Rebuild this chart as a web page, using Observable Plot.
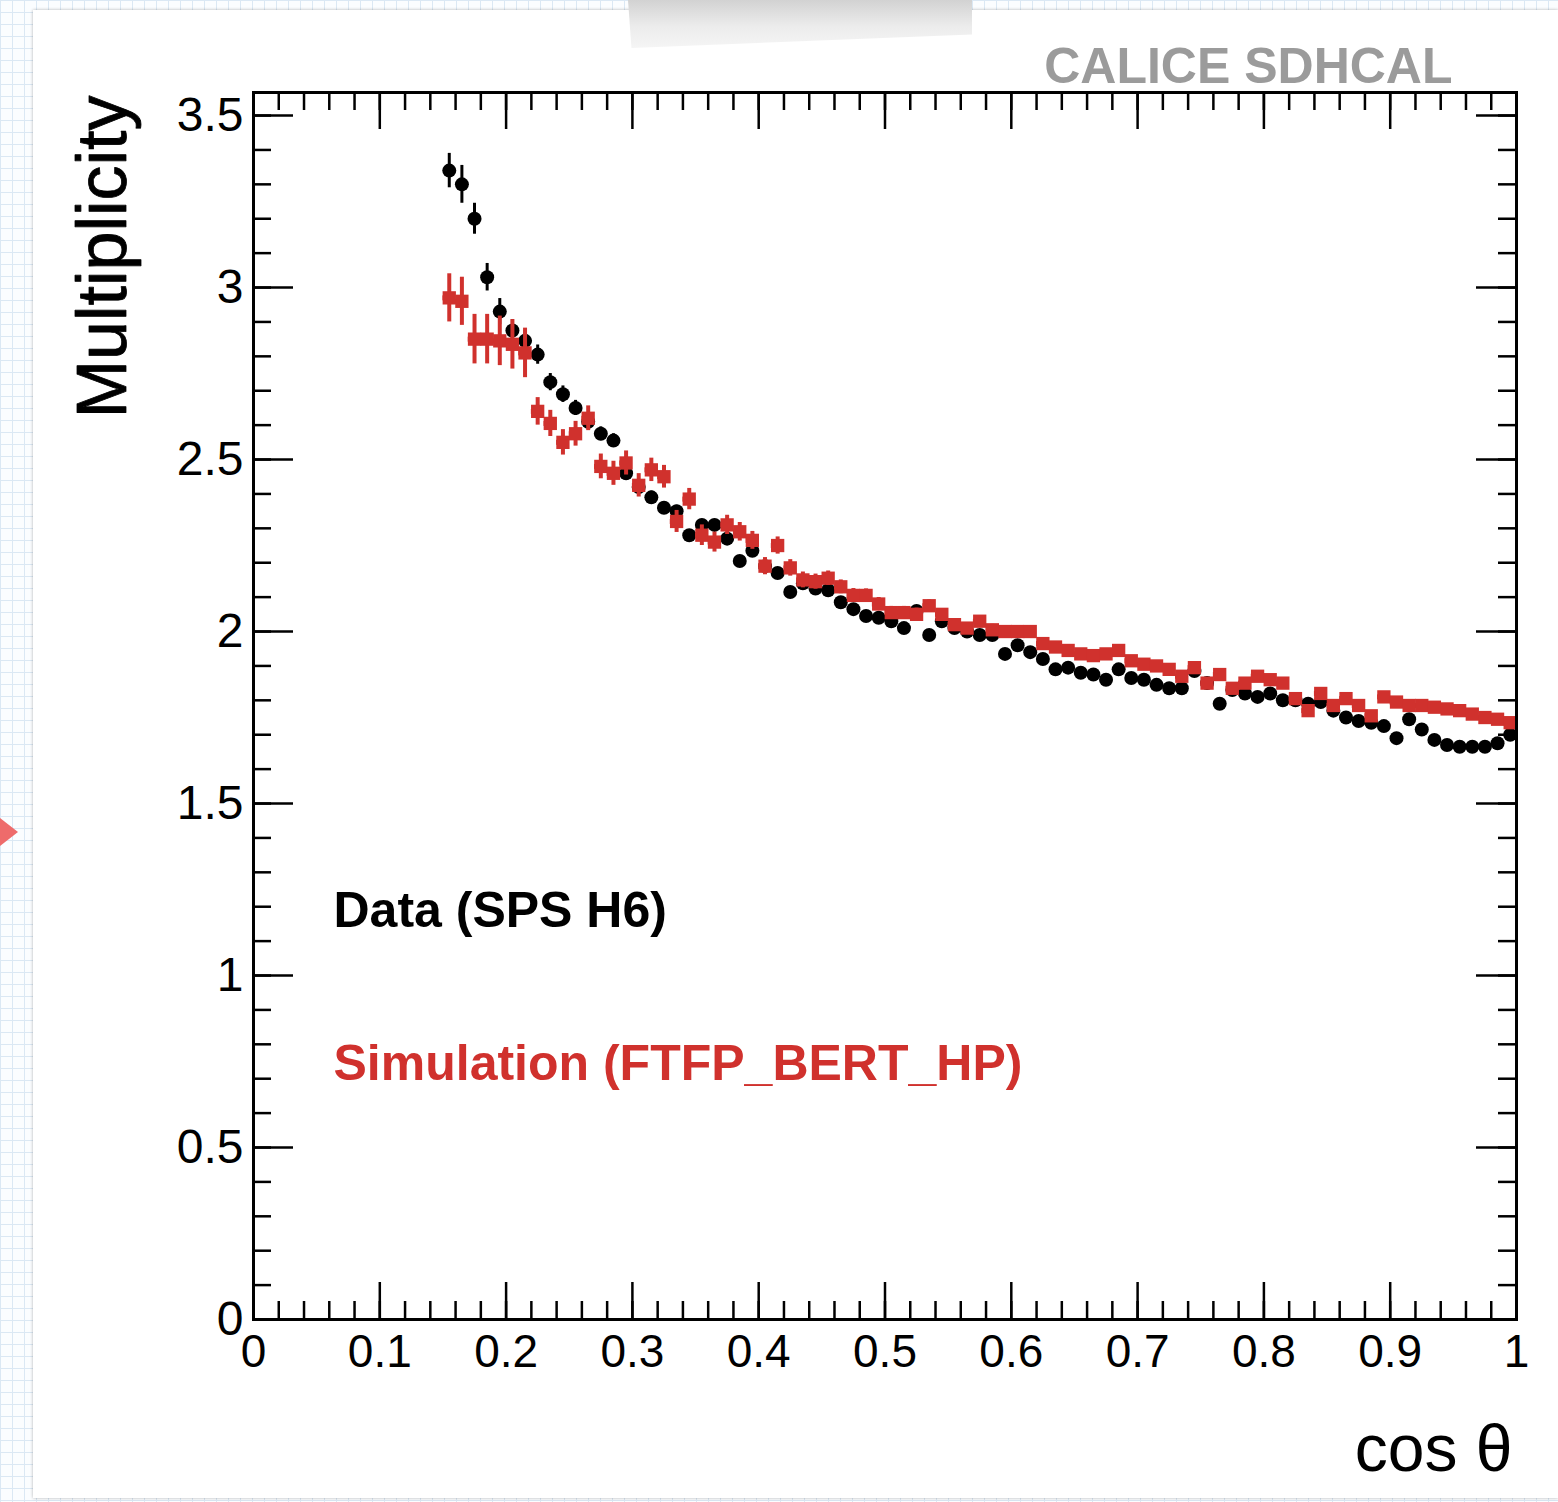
<!DOCTYPE html>
<html>
<head>
<meta charset="utf-8">
<script src="https://cdn.jsdelivr.net/npm/d3@7"></script>
<script src="https://cdn.jsdelivr.net/npm/@observablehq/plot@0.6"></script>
<style>
  html, body { margin: 0; padding: 0; }
  body {
    width: 1558px; height: 1502px; position: relative; overflow: hidden;
    background-color: #fbfdff;
    background-image:
      linear-gradient(#dbe8f4 1px, transparent 1px),
      linear-gradient(90deg, #dbe8f4 1px, transparent 1px);
    background-size: 12px 12px;
  }
  #sheet {
    position: absolute; left: 33px; top: 10px; right: 0; bottom: 4px;
    background: #fff; box-shadow: 0 0 3px rgba(0,0,0,0.3);
  }
  #tape {
    position: absolute; left: 628px; top: 0; width: 344px; height: 48px;
    background: linear-gradient(#d2d2d2, #ececec 55%, #f5f5f5);
    clip-path: polygon(0 0, 100% 0, 100% 72%, 1% 100%);
  }
  #pointer {
    position: absolute; left: 0; top: 818px; width: 0; height: 0;
    border-top: 14px solid transparent; border-bottom: 14px solid transparent;
    border-left: 18px solid #ee6b6b;
  }
  #chart { position: absolute; left: 0; top: 0; }
</style>
</head>
<body>
<div id="sheet"></div>
<div id="tape"></div>
<div id="pointer"></div>
<div id="chart"></div>
<script>
// Bin centres in cos(theta), bin width 0.01
const binWidth = 0.01;
const cosTheta = [
  0.155,0.165,0.175,0.185,0.195,0.205,0.215,0.225,0.235,0.245,
  0.255,0.265,0.275,0.285,0.295,0.305,0.315,0.325,0.335,0.345,
  0.355,0.365,0.375,0.385,0.395,0.405,0.415,0.425,0.435,0.445,
  0.455,0.465,0.475,0.485,0.495,0.505,0.515,0.525,0.535,0.545,
  0.555,0.565,0.575,0.585,0.595,0.605,0.615,0.625,0.635,0.645,
  0.655,0.665,0.675,0.685,0.695,0.705,0.715,0.725,0.735,0.745,
  0.755,0.765,0.775,0.785,0.795,0.805,0.815,0.825,0.835,0.845,
  0.855,0.865,0.875,0.885,0.895,0.905,0.915,0.925,0.935,0.945,
  0.955,0.965,0.975,0.985,0.995
];

// Data (SPS H6): mean multiplicity and its uncertainty
const dataMult = [
  3.34,3.30,3.20,3.03,2.93,2.875,2.845,2.805,2.725,2.69,
  2.65,2.61,2.575,2.555,2.46,2.42,2.39,2.36,2.35,2.28,
  2.31,2.31,2.27,2.205,2.235,2.19,2.17,2.115,2.14,2.125,
  2.12,2.085,2.065,2.045,2.04,2.03,2.01,2.06,1.99,2.03,
  2.01,2.0,1.99,1.99,1.935,1.96,1.94,1.92,1.89,1.895,
  1.88,1.875,1.86,1.89,1.865,1.86,1.845,1.835,1.835,1.885,
  1.85,1.79,1.83,1.82,1.81,1.82,1.80,1.80,1.79,1.795,
  1.77,1.75,1.74,1.735,1.725,1.69,1.745,1.715,1.685,1.67,
  1.665,1.665,1.665,1.675,1.70
];
const dataErr = [
  0.050,0.055,0.045,0.040,0.038,0.032,0.030,0.028,0.025,0.024,
  0.022,0.021,0.020,0.020,0.019,0.018,0.018,0.017,0.017,0.016,
  0.016,0.016,0.015,0.015,0.015,0.015,0.015,0.015,0.015,0.015,
  0.014,0.014,0.014,0.014,0.014,0.014,0.014,0.014,0.014,0.014,
  0.013,0.013,0.013,0.013,0.013,0.013,0.013,0.013,0.013,0.013,
  0.013,0.013,0.013,0.013,0.013,0.013,0.013,0.013,0.013,0.013,
  0.012,0.012,0.012,0.012,0.012,0.012,0.012,0.012,0.012,0.012,
  0.012,0.012,0.012,0.012,0.012,0.012,0.012,0.012,0.012,0.012,
  0.012,0.012,0.012,0.012,0.012
];

// Simulation (FTFP_BERT_HP): mean multiplicity and its uncertainty
const simMult = [
  2.97,2.96,2.85,2.85,2.845,2.835,2.81,2.64,2.605,2.55,
  2.575,2.62,2.48,2.46,2.49,2.425,2.47,2.45,2.32,2.385,
  2.28,2.26,2.31,2.29,2.265,2.19,2.25,2.185,2.15,2.145,
  2.155,2.13,2.105,2.105,2.08,2.055,2.055,2.05,2.075,2.05,
  2.02,2.01,2.03,2.005,2.0,2.0,2.0,1.965,1.955,1.945,
  1.935,1.93,1.935,1.945,1.915,1.905,1.90,1.89,1.87,1.895,
  1.85,1.875,1.835,1.85,1.87,1.86,1.85,1.805,1.77,1.82,
  1.785,1.805,1.785,1.755,1.81,1.795,1.785,1.785,1.78,1.775,
  1.77,1.76,1.75,1.745,1.735
];
const simErr = [
  0.070,0.070,0.072,0.072,0.072,0.072,0.072,0.040,0.038,0.037,
  0.036,0.036,0.036,0.035,0.035,0.034,0.034,0.033,0.032,0.031,
  0.030,0.029,0.028,0.027,0.026,0.025,0.025,0.024,0.023,0.022,
  0.021,0.020,0.020,0.019,0.019,0.018,0.018,0.018,0.017,0.017,
  0.017,0.016,0.016,0.016,0.016,0.015,0.015,0.015,0.015,0.015,
  0.015,0.015,0.015,0.015,0.015,0.015,0.015,0.015,0.015,0.015,
  0.014,0.014,0.014,0.014,0.014,0.014,0.014,0.014,0.014,0.014,
  0.014,0.014,0.014,0.014,0.014,0.014,0.014,0.014,0.014,0.014,
  0.014,0.014,0.014,0.014,0.014
];

// Axis ticks
const xTicks = [0, 0.1, 0.2, 0.3, 0.4, 0.5, 0.6, 0.7, 0.8, 0.9, 1];
const yTicks = [0, 0.5, 1, 1.5, 2, 2.5, 3, 3.5];
const xMinorStep = 0.02;
const yMinorStep = 0.1;
const yMax = 3.567;

const dataRows = cosTheta.map((x, i) => ({x, y: dataMult[i], e: dataErr[i]}));
const simRows = cosTheta.map((x, i) => ({x, y: simMult[i], e: simErr[i]}));

const xMinor = d3.range(0, 1 + 1e-9, xMinorStep).map(v => +v.toFixed(3));
const yMinor = d3.range(0, yMax, yMinorStep).map(v => +v.toFixed(3));

const W = 1558, H = 1502;
const mL = 253, mR = 42, mT = 92, mB = 183;
const plotW = W - mL - mR;
const plotH = H - mT - mB;
const red = "#d0312d";
const font = "'Liberation Sans', Arial, Helvetica, sans-serif";
const fmt = d => String(+d.toFixed(1));

const tickStroke = {stroke: "#000", strokeWidth: 2.5};

const chart = Plot.plot({
  width: W,
  height: H,
  marginLeft: mL,
  marginRight: mR,
  marginTop: mT,
  marginBottom: mB,
  style: {fontFamily: font, background: "transparent", overflow: "visible"},
  x: {domain: [0, 1]},
  y: {domain: [0, yMax]},
  marks: [
    // inward ticks on all four sides
    Plot.ruleX(xMinor, {x: d => d, insetTop: plotH - 18, ...tickStroke}),
    Plot.ruleX(xMinor, {x: d => d, insetBottom: plotH - 18, ...tickStroke}),
    Plot.ruleX(xTicks, {x: d => d, insetTop: plotH - 37, ...tickStroke}),
    Plot.ruleX(xTicks, {x: d => d, insetBottom: plotH - 37, ...tickStroke}),
    Plot.ruleY(yMinor, {y: d => d, insetRight: plotW - 18, ...tickStroke}),
    Plot.ruleY(yMinor, {y: d => d, insetLeft: plotW - 18, ...tickStroke}),
    Plot.ruleY(yTicks, {y: d => d, insetRight: plotW - 40, ...tickStroke}),
    Plot.ruleY(yTicks, {y: d => d, insetLeft: plotW - 40, ...tickStroke}),

    // tick labels
    Plot.axisX(xTicks, {tickSize: 0, tickPadding: 15, fontSize: 46, tickFormat: fmt, label: null, fill: "#000"}),
    Plot.axisY(yTicks, {tickSize: 0, tickPadding: 10, fontSize: 48, tickFormat: fmt, label: null, fill: "#000"}),

    // Data: vertical error bars and filled circles
    Plot.ruleX(dataRows, {x: "x", y1: d => d.y - d.e, y2: d => d.y + d.e, stroke: "#000", strokeWidth: 3}),
    Plot.dot(dataRows, {x: "x", y: "y", r: 7, fill: "#000"}),

    // Simulation: bin-width bars, vertical error bars and squares
    Plot.ruleY(simRows, {y: "y", x1: d => d.x - binWidth / 2, x2: d => d.x + binWidth / 2, stroke: red, strokeWidth: 5}),
    Plot.ruleX(simRows, {x: "x", y1: d => d.y - d.e, y2: d => d.y + d.e, stroke: red, strokeWidth: 4}),
    Plot.dot(simRows, {x: "x", y: "y", symbol: "square", r: 7.5, fill: red}),

    Plot.frame({stroke: "#000", strokeWidth: 3}),

    // axis titles
    Plot.text(["Multiplicity"], {frameAnchor: "top-left", rotate: -90, textAnchor: "end", lineAnchor: "bottom",
      dx: -128, dy: 3, fontSize: 70, fill: "#000", stroke: "#000", strokeWidth: 0.8}),
    Plot.text(["cos \u03b8"], {frameAnchor: "bottom-right", textAnchor: "end", lineAnchor: "bottom",
      dx: -4, dy: 151, fontSize: 66, fill: "#000"}),

    // experiment tag
    Plot.text(["CALICE SDHCAL"], {frameAnchor: "top-right", textAnchor: "end", lineAnchor: "bottom",
      dx: -64, dy: -10, fontSize: 50, fontWeight: "bold", fill: "#9b9b9b"}),

    // legend
    Plot.text(["Data (SPS H6)"], {frameAnchor: "top-left", textAnchor: "start", lineAnchor: "bottom",
      dx: 80, dy: 834, fontSize: 50, fontWeight: "bold", fill: "#000"}),
    Plot.text(["Simulation (FTFP_BERT_HP)"], {frameAnchor: "top-left", textAnchor: "start", lineAnchor: "bottom",
      dx: 80, dy: 987, fontSize: 50, fontWeight: "bold", fill: red})
  ]
});

document.getElementById("chart").appendChild(chart);
</script>
</body>
</html>
